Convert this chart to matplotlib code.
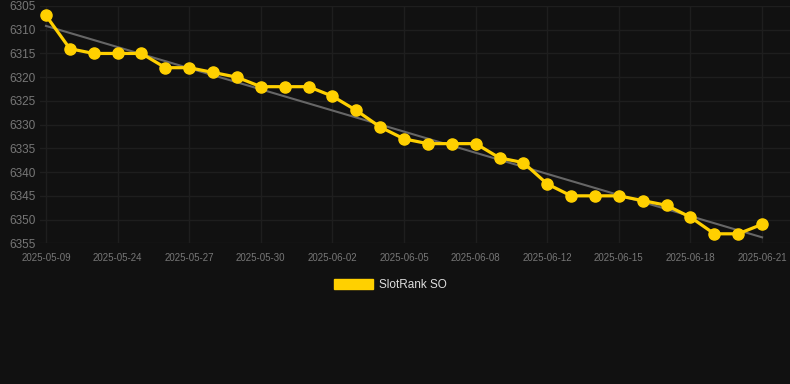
import matplotlib

matplotlib.use("Agg")
import matplotlib.pyplot as plt
import numpy as np
from matplotlib.patches import Patch

plt.rcParams["font.family"] = ["Liberation Sans", "DejaVu Sans"]

# ── data ──────────────────────────────────────────────────────────────────────
dates = [
    "2025-05-09", "2025-05-22", "2025-05-23", "2025-05-24", "2025-05-25",
    "2025-05-26", "2025-05-27", "2025-05-28", "2025-05-29", "2025-05-30",
    "2025-05-31", "2025-06-01", "2025-06-02", "2025-06-03", "2025-06-04",
    "2025-06-05", "2025-06-06", "2025-06-07", "2025-06-08", "2025-06-10",
    "2025-06-11", "2025-06-12", "2025-06-13", "2025-06-14", "2025-06-15",
    "2025-06-16", "2025-06-17", "2025-06-18", "2025-06-19", "2025-06-20",
    "2025-06-21",
]
rank = [
    6307, 6314, 6315, 6315, 6315, 6318, 6318, 6319, 6320, 6322,
    6322, 6322, 6324, 6327, 6330.5, 6333, 6334, 6334, 6334, 6337,
    6338, 6342.5, 6345, 6345, 6345, 6346, 6347, 6349.5, 6353, 6353,
    6351,
]
series_name = "SlotRank SO"
y_ticks = [6305, 6310, 6315, 6320, 6325, 6330, 6335, 6340, 6345, 6350, 6355]

# ── style ─────────────────────────────────────────────────────────────────────
BG = "#111111"
GOLD = "#FFD000"
GRID = "#1e1e1e"
TICK = "#777777"

fig = plt.figure(figsize=(7.9, 3.84), dpi=100, facecolor=BG)
ax = fig.add_axes([40 / 790, 1 - 243.3 / 384, 750 / 790, 237.3 / 384])
ax.set_facecolor(BG)

x = np.arange(len(rank))
slope, icpt = np.polyfit(x, rank, 1)
ax.plot(x, slope * x + icpt, color="#666666", lw=1.5, zorder=2)
ax.plot(x, rank, color=GOLD, lw=2.3, marker="o", ms=8, zorder=3)

ax.set_ylim(6355, 6305)
ax.set_xlim(-0.25, 31.17)
ax.set_yticks(y_ticks)
ax.set_xticks(x[::3])
ax.set_xticklabels(dates[::3])

ax.grid(True, color=GRID, lw=1)
ax.set_axisbelow(True)
for s in ax.spines.values():
    s.set_visible(False)
ax.tick_params(axis="y", length=0, colors=TICK, labelsize=8.5, pad=3)
ax.tick_params(axis="x", length=0, colors=TICK, labelsize=7, pad=7)

fig.legend(
    handles=[Patch(color=GOLD, label=series_name)],
    loc="center",
    bbox_to_anchor=(0.494, 1 - 285 / 384),
    frameon=False,
    handlelength=3.3,
    handleheight=0.95,
    handletextpad=0.5,
    labelcolor="#dddddd",
    fontsize=8.5,
)

fig.savefig("out.png", dpi=100, facecolor=BG)
